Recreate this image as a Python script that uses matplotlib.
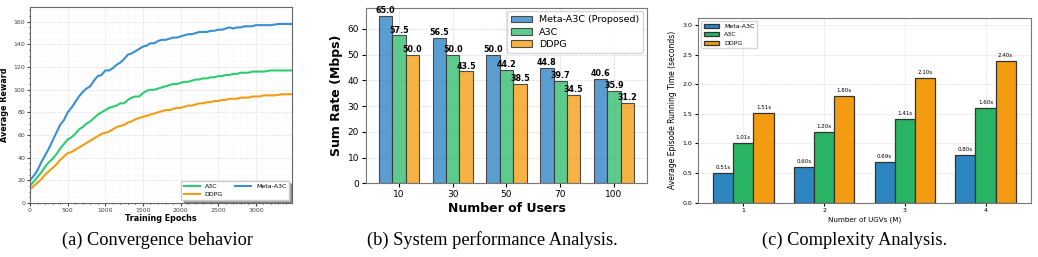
import matplotlib.pyplot as plt
import numpy as np

# (a) convergence, read every 50 epochs
epochs = list(range(0, 3501, 50))
meta_reward = [20, 24, 29, 36, 42, 48, 55, 62, 69, 73, 80, 84, 89, 94, 98, 101, 103, 108, 112, 113,
               117, 117, 119, 122, 124, 127, 131, 132, 134, 136, 138, 139, 141, 141, 143, 144, 144, 145,
               146, 146, 147, 148, 149, 149, 150, 151, 151, 151, 152, 152, 153, 153, 154, 155, 154, 155,
               155, 156, 156, 156, 157, 157, 157, 157, 157, 157.5, 158, 158, 158, 158, 158]
a3c_reward = [15, 19, 23, 27, 32, 36, 39, 43, 48, 52, 56, 58, 61, 65, 67, 70, 72, 75, 78, 80,
              82, 84, 85, 86, 88, 88, 91, 93, 94, 94, 97, 99, 100, 100, 101, 102, 103, 104,
              105, 105, 106, 107, 107, 108, 109, 109, 110, 110, 111, 111, 112, 112, 113, 113, 114, 114,
              115, 115, 115, 116, 116, 116, 116, 116.5, 117, 117, 117, 117, 117, 117, 117]
ddpg_reward = [12, 15, 18, 21, 25, 28, 31, 34, 38, 41, 44, 45, 47, 49, 51, 53, 55, 57, 59, 61,
               62, 63, 65, 67, 68, 69, 71, 72, 74, 75, 76, 77, 78, 79, 80, 81, 82, 82,
               83, 84, 84, 85, 86, 86, 87, 88, 88, 89, 89, 90, 90, 91, 91, 92, 92, 92,
               93, 93, 93, 94, 94, 94, 95, 95, 95, 95, 95.5, 96, 96, 96, 96]

# (b) sum rate
users = ['10', '30', '50', '70', '100']
meta_rate = [65.0, 56.5, 50.0, 44.8, 40.6]
a3c_rate = [57.5, 50.0, 44.2, 39.7, 35.9]
ddpg_rate = [50.0, 43.5, 38.5, 34.5, 31.2]

# (c) running time
ugvs = ['1', '2', '3', '4']
meta_time = [0.51, 0.60, 0.69, 0.80]
a3c_time = [1.01, 1.20, 1.41, 1.60]
ddpg_time = [1.51, 1.80, 2.10, 2.40]

fig = plt.figure(figsize=(10.38, 2.57), dpi=100)

# ---- (a)
ax1 = fig.add_axes([0.0289, 0.2101, 0.2524, 0.7626])
ax1.plot(epochs, a3c_reward, color='#2ecc71', lw=1.5, label='A3C')
ax1.plot(epochs, ddpg_reward, color='#f39c12', lw=1.5, label='DDPG')
ax1.plot(epochs, meta_reward, color='#3b8fd0', lw=1.5, label='Meta-A3C')
ax1.set_xlim(0, 3480)
ax1.set_ylim(0, 173)
ax1.set_xticks([0, 500, 1000, 1500, 2000, 2500, 3000])
ax1.set_yticks(range(0, 161, 20))
ax1.minorticks_on()
ax1.tick_params(labelsize=4.5, length=2, pad=1.5, colors='#444')
ax1.tick_params(which='minor', length=1)
ax1.grid(True, ls='--', lw=0.4, alpha=0.5)
ax1.grid(True, which='minor', ls=':', lw=0.3, alpha=0.3)
for s in ax1.spines.values():
    s.set_color('#666')
ax1.set_xlabel('Training Epochs', fontsize=5.8, fontweight='bold', labelpad=1)
ax1.set_ylabel('Average Reward', fontsize=5.8, fontweight='bold', labelpad=3)
ax1.legend(loc='lower right', ncol=2, fontsize=4.5, shadow=True, framealpha=1, handlelength=2.5,
           columnspacing=2)

# ---- (b)
x = np.arange(len(users))
w = 0.25
ax2 = fig.add_axes([0.3526, 0.2868, 0.2707, 0.6833])
groups = [(meta_rate, '#3d8cc8', 'Meta-A3C (Proposed)'),
          (a3c_rate, '#42c27a', 'A3C'),
          (ddpg_rate, '#f5a623', 'DDPG')]
for i, (vals, col, lab) in enumerate(groups):
    bars = ax2.bar(x + (i - 1) * w, vals, w, color=col, alpha=0.85, edgecolor='#333', lw=0.8, label=lab)
    for b, v in zip(bars, vals):
        ax2.text(b.get_x() + b.get_width() / 2, v + 0.3, f'{v:.1f}', ha='center', va='bottom',
                 fontsize=5.8, fontweight='bold')
ax2.set_xticks(x)
ax2.set_xticklabels(users)
ax2.tick_params(labelsize=6.5, length=3, pad=2)
ax2.set_yticks(range(0, 61, 10))
ax2.grid(True, ls='--', lw=0.5, alpha=0.5)
ax2.set_axisbelow(True)
ax2.set_xlabel('Number of Users', fontsize=9, fontweight='bold', labelpad=2)
ax2.set_ylabel('Sum Rate (Mbps)', fontsize=9, fontweight='bold', labelpad=3)
ax2.legend(loc='upper right', fontsize=6.8, handlelength=2.2, labelspacing=0.35,
           borderaxespad=0.4)
for s in ax2.spines.values():
    s.set_color('#777')

# ---- (c)
x3 = np.arange(len(ugvs))
ax3 = fig.add_axes([0.6724, 0.2113, 0.3208, 0.7187])
groups3 = [(meta_time, '#2e86c1', 'Meta-A3C'),
           (a3c_time, '#28b463', 'A3C'),
           (ddpg_time, '#f39c12', 'DDPG')]
for i, (vals, col, lab) in enumerate(groups3):
    bars = ax3.bar(x3 + (i - 1) * w, vals, w, color=col, edgecolor='#333', lw=0.9, label=lab)
    for b, v in zip(bars, vals):
        ax3.text(b.get_x() + b.get_width() / 2, v + 0.05, f'{v:.2f}s', ha='center', va='bottom',
                 fontsize=4)
ax3.set_xticks(x3)
ax3.set_xticklabels(ugvs)
ax3.set_ylim(0, 3.12)
ax3.set_yticks(np.arange(0, 3.01, 0.5))
ax3.tick_params(labelsize=4.5, length=2, pad=2)
ax3.grid(True, ls='--', lw=0.4, alpha=0.5)
ax3.set_axisbelow(True)
ax3.set_xlabel('Number of UGVs (M)', fontsize=5.1, labelpad=2)
ax3.set_ylabel('Average Episode Running Time (seconds)', fontsize=5.5)
ax3.legend(loc='upper left', fontsize=4.5, handlelength=2.5)
for s in ax3.spines.values():
    s.set_color('#777')

# captions
cap = dict(fontsize=13.2, family='Liberation Serif', ha='center', va='center')
fig.text(157 / 1038, 1 - 240 / 257, '(a) Convergence behavior', **cap)
fig.text(492 / 1038, 1 - 240 / 257, '(b) System performance Analysis.', **cap)
fig.text(855 / 1038, 1 - 240 / 257, '(c) Complexity Analysis.', **cap)

fig.savefig('out.png', dpi=100)
